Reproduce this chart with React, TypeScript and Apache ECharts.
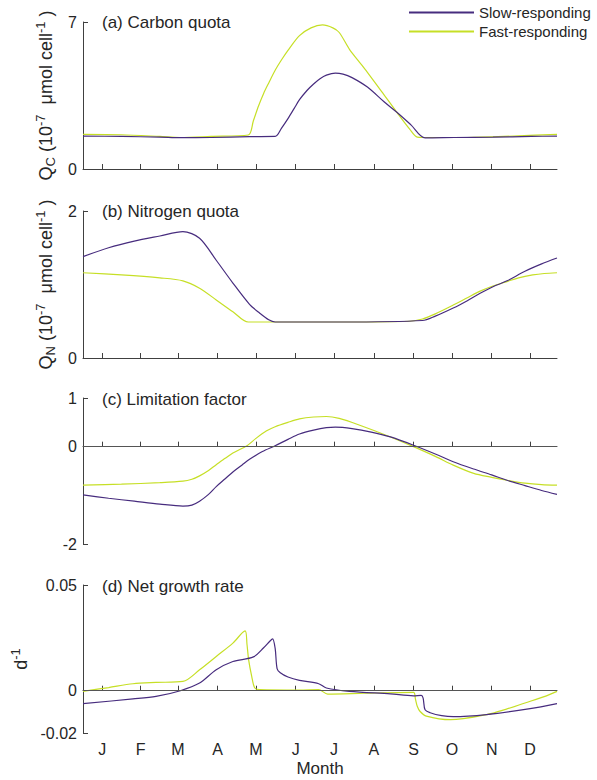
import React, { useEffect, useRef } from "react";
import * as echarts from "echarts";

const FONT = "'Liberation Sans', Arial, sans-serif";
const TXT = "#262626";
const AX = "#404040";
const SLOW = "#472c7e";
const FAST = "#c6df26";

const monthDays = [15, 45, 74, 105, 135, 166, 196, 227, 258, 288, 319, 349];
const monthLabels = ["J", "F", "M", "A", "M", "J", "J", "A", "S", "O", "N", "D"];
const seriesNames = ["Slow-responding", "Fast-responding"];
const panelTitles = ["(a) Carbon quota", "(b) Nitrogen quota", "(c) Limitation factor", "(d) Net growth rate"];

// (a) carbon quota
const qcSlowDays = [0, 30, 60, 76, 100, 130, 150, 155, 160, 165, 169, 175, 180, 185, 190, 197, 203, 210, 222, 235, 245, 256, 267, 290, 320, 350, 370];
const qcSlowVals = [1.57, 1.55, 1.52, 1.49, 1.5, 1.54, 1.55, 1.95, 2.4, 2.9, 3.3, 3.75, 4.05, 4.3, 4.47, 4.57, 4.52, 4.35, 3.9, 3.2, 2.7, 2.1, 1.48, 1.5, 1.52, 1.55, 1.57];
const qcFastDays = [0, 30, 60, 76, 100, 129, 133, 137, 141, 145, 150, 155, 160, 169, 178, 187, 195, 200, 208, 215, 222, 233, 245, 255, 261, 270, 300, 340, 370];
const qcFastVals = [1.65, 1.63, 1.55, 1.5, 1.55, 1.62, 2.3, 3.0, 3.6, 4.1, 4.7, 5.2, 5.65, 6.35, 6.72, 6.86, 6.72, 6.5, 5.7, 5.15, 4.6, 3.7, 2.7, 1.9, 1.52, 1.5, 1.5, 1.58, 1.65];

// (b) nitrogen quota
const qnSlowDays = [0, 20, 40, 60, 78, 91, 104, 117, 130, 138, 145, 150, 200, 265, 275, 289, 300, 310, 320, 331, 345, 358, 370];
const qnSlowVals = [1.38, 1.5, 1.59, 1.66, 1.72, 1.63, 1.33, 1.02, 0.73, 0.61, 0.52, 0.49, 0.49, 0.51, 0.57, 0.68, 0.78, 0.88, 0.97, 1.05, 1.18, 1.28, 1.36];
const qnFastDays = [0, 30, 60, 78, 91, 104, 117, 129, 150, 200, 255, 265, 275, 289, 300, 310, 320, 331, 340, 351, 360, 370];
const qnFastVals = [1.16, 1.13, 1.09, 1.05, 0.95, 0.79, 0.63, 0.49, 0.49, 0.49, 0.5, 0.53, 0.6, 0.72, 0.82, 0.91, 0.98, 1.04, 1.09, 1.13, 1.15, 1.16];

// (c) limitation factor
const lfSlowDays = [0, 20, 40, 60, 78, 85, 91, 98, 104, 111, 117, 124, 130, 140, 150, 160, 169, 180, 190, 197, 210, 225, 240, 258, 275, 289, 305, 319, 331, 345, 358, 370];
const lfSlowVals = [-0.99, -1.06, -1.12, -1.18, -1.22, -1.2, -1.12, -0.98, -0.82, -0.66, -0.52, -0.38, -0.26, -0.1, 0.02, 0.15, 0.26, 0.34, 0.39, 0.4, 0.37, 0.3, 0.2, 0.03, -0.15, -0.31, -0.46, -0.58, -0.69, -0.8, -0.9, -0.98];
const lfFastDays = [0, 30, 60, 78, 85, 91, 98, 104, 111, 117, 128, 135, 143, 150, 160, 169, 180, 190, 200, 215, 240, 258, 275, 289, 305, 319, 331, 345, 358, 370];
const lfFastVals = [-0.79, -0.77, -0.74, -0.71, -0.67, -0.6, -0.49, -0.37, -0.24, -0.13, 0.02, 0.17, 0.32, 0.41, 0.5, 0.57, 0.61, 0.62, 0.58, 0.45, 0.2, 0.0, -0.2, -0.38, -0.55, -0.63, -0.69, -0.75, -0.78, -0.79];

// (d) net growth rate
const grSlowDays = [0, 39, 57, 76, 91, 104, 117, 133, 141, 146, 148, 150, 151.5, 154, 160, 169, 184, 190, 208, 240, 258, 264, 265.5, 267, 271, 280, 289, 315, 349, 370];
const grSlowVals = [-0.0061, -0.0039, -0.0027, 0, 0.0036, 0.0099, 0.0138, 0.016, 0.0203, 0.0235, 0.0245, 0.02, 0.0105, 0.0085, 0.0065, 0.0049, 0.0033, 0.0013, -0.0003, -0.0015, -0.0024, -0.0022, -0.0035, -0.009, -0.0104, -0.0118, -0.0123, -0.0113, -0.0085, -0.0061];
const grFastDays = [0, 20, 39, 57, 78, 91, 104, 117, 126.5, 128, 129.3, 131.7, 134, 138, 169, 184, 191, 220, 258, 259.5, 261, 263, 268, 287, 315, 330, 345, 360, 370];
const grFastVals = [-0.0003, 0.0015, 0.0033, 0.0039, 0.0044, 0.0099, 0.0162, 0.0225, 0.0283, 0.022, 0.0146, 0.0068, 0.0014, 0.0005, 0.0003, 0.0005, -0.0016, -0.0012, -0.0008, -0.004, -0.0075, -0.0097, -0.012, -0.0137, -0.0113, -0.0088, -0.0058, -0.0028, -0.0003];

const yMins = [0, 0, -2, -0.02];
const yMaxs = [7, 2, 1, 0.05];
const yTicks = [[0, 7], [0, 2], [-2, 0, 1], [-0.02, 0, 0.05]];

const zip = (d: number[], v: number[]) => d.map((x, i) => [x, v[i]]);

export default function App() {
  const ref = useRef<HTMLDivElement>(null);
  useEffect(() => {
    document.body.style.margin = "0";
    if (!ref.current) return;
    const chart = echarts.init(ref.current, null, { renderer: "svg" });

    const tops = [22, 211, 398, 585];
    const heights = [147, 147, 146, 148];
    const grids = tops.map((t, i) => ({ left: 83, width: 474, top: t, height: heights[i] }));

    const rich = {
      m: { fontSize: 18, lineHeight: 23, fontFamily: FONT, color: TXT },
      sub: { fontSize: 13, lineHeight: 13, verticalAlign: "bottom", fontFamily: FONT, color: TXT },
      sup: { fontSize: 13, lineHeight: 13, verticalAlign: "top", fontFamily: FONT, color: TXT },
    };
    const yNames = [
      "{m|Q}{sub|C}{m| (10}{sup|-7}{m|  μmol cell}{sup|-1}{m| )}",
      "{m|Q}{sub|N}{m| (10}{sup|-7}{m|  μmol cell}{sup|-1}{m| )}",
      "",
      "{m|d}{sup|-1}",
    ];
    const yGaps = [21, 21, 20, 44];

    const xAxes = grids.map((_, i) => ({
      type: "value",
      gridIndex: i,
      min: 0,
      max: 370,
      axisLine: { show: true, lineStyle: { color: AX, width: 1 } },
      axisTick: { show: true, inside: true, length: 5, customValues: monthDays, lineStyle: { color: AX } },
      axisLabel: {
        show: i === 3,
        customValues: monthDays,
        margin: 8,
        fontSize: 16,
        fontFamily: FONT,
        color: TXT,
        formatter: (v: number) => {
          const k = monthDays.indexOf(Math.round(v));
          return k >= 0 ? monthLabels[k] : "";
        },
      },
      splitLine: { show: false },
      name: i === 3 ? "Month" : "",
      nameLocation: "middle",
      nameGap: 27,
      nameTextStyle: { fontSize: 17, fontFamily: FONT, color: TXT },
    }));

    const yAxes = grids.map((_, i) => ({
      type: "value",
      gridIndex: i,
      min: yMins[i],
      max: yMaxs[i],
      axisLine: { show: true, onZero: false, lineStyle: { color: AX, width: 1 } },
      axisTick: { show: true, inside: true, length: 5, customValues: yTicks[i], lineStyle: { color: AX } },
      axisLabel: {
        customValues: yTicks[i],
        margin: 6,
        fontSize: 16,
        fontFamily: FONT,
        color: TXT,
        formatter: (v: number) => {
          let best = yTicks[i][0];
          yTicks[i].forEach((t) => { if (Math.abs(t - v) < Math.abs(best - v)) best = t; });
          return String(best);
        },
      },
      splitLine: { show: false },
      name: yNames[i],
      nameLocation: "middle",
      nameRotate: 90,
      nameGap: yGaps[i],
      nameTextStyle: { rich },
    }));

    const data = [
      [zip(qcSlowDays, qcSlowVals), zip(qcFastDays, qcFastVals)],
      [zip(qnSlowDays, qnSlowVals), zip(qnFastDays, qnFastVals)],
      [zip(lfSlowDays, lfSlowVals), zip(lfFastDays, lfFastVals)],
      [zip(grSlowDays, grSlowVals), zip(grFastDays, grFastVals)],
    ];

    const series: any[] = [];
    data.forEach((pair, i) => {
      pair.forEach((d, j) => {
        const s: any = {
          type: "line",
          name: seriesNames[j],
          xAxisIndex: i,
          yAxisIndex: i,
          data: d,
          smooth: 0.3,
          symbol: "none",
          color: j === 0 ? SLOW : FAST,
          lineStyle: { width: 1.2, color: j === 0 ? SLOW : FAST },
          z: 3 - j,
        };
        if (j === 0 && i >= 2) {
          s.markLine = {
            silent: true,
            symbol: "none",
            label: { show: false },
            lineStyle: { color: "#555", width: 1, type: "solid" },
            data: [{ yAxis: 0 }],
          };
        }
        series.push(s);
      });
    });

    const titleTops = [14, 203, 391, 578];
    chart.setOption({
      animation: false,
      grid: grids,
      xAxis: xAxes,
      yAxis: yAxes,
      legend: {
        data: seriesNames,
        orient: "vertical",
        left: 408,
        top: 5,
        padding: 0,
        itemWidth: 65,
        itemHeight: 14,
        itemGap: 4,
        itemStyle: { opacity: 0 },
        textStyle: { fontSize: 15, fontFamily: FONT, color: TXT },
      },
      graphic: panelTitles.map((t, i) => ({
        type: "text",
        left: 102,
        top: titleTops[i],
        style: { text: t, font: `17px ${FONT}`, fill: TXT },
      })),
      series,
    });
    return () => chart.dispose();
  }, []);
  return <div ref={ref} style={{ width: 597, height: 780 }} />;
}
